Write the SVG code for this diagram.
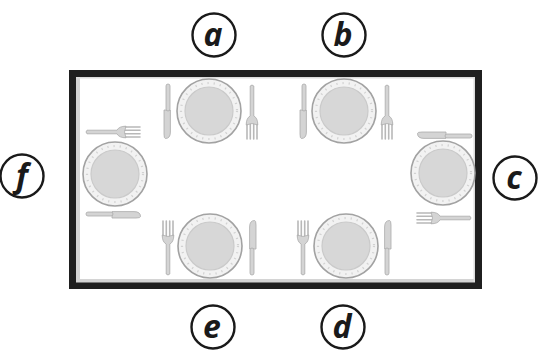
<svg xmlns="http://www.w3.org/2000/svg" xmlns:xlink="http://www.w3.org/1999/xlink" width="539" height="356" viewBox="0 0 539 356">
  <style>
    .label-ring { fill: #ffffff; stroke: #1a1a1a; stroke-width: 2.4; }
    .label-text { font-family: "Open Sans", "DejaVu Sans", sans-serif; font-style: italic; font-weight: 700; font-size: 32px; fill: #1a1a1a; text-anchor: middle; }
    .metal { fill: #d4d4d4; stroke: #ababab; stroke-width: 0.8; }
    .tine { stroke: #b8b8b8; stroke-width: 1.6; stroke-linecap: round; fill: none; }
  </style>
  <defs>
    <!-- dinner plate centred at the origin -->
    <g id="plate">
      <circle r="32" fill="#f2f2f2" stroke="#a2a2a2" stroke-width="1.6"/>
      <circle r="28" fill="none" stroke="#d2d2d2" stroke-width="2.2" stroke-dasharray="1.2 5"/>
      <circle r="24" fill="#d7d7d7" stroke="#cacaca" stroke-width="1.2"/>
    </g>
    <!-- table knife, blade pointing up -->
    <g id="knife">
      <path class="metal" d="M -2.4,1 L -2.4,-21 Q -2.4,-27.5 2.6,-27.5 Q 4,-27.5 4,-23 L 4,1 Z"/>
      <rect class="metal" x="-2" y="0" width="4" height="27" rx="2"/>
    </g>
    <!-- table fork, tines pointing up -->
    <g id="fork">
      <path class="tine" d="M -5,-27 L -5,-12 M -1.7,-27 L -1.7,-11 M 1.7,-27 L 1.7,-11 M 5,-27 L 5,-12"/>
      <path class="metal" d="M -5.8,-13 Q -5.8,-6 -1.8,-4 L -1.8,26 Q 0,28 1.8,26 L 1.8,-4 Q 5.8,-6 5.8,-13 Q 0,-10 -5.8,-13 Z"/>
    </g>
  </defs>

  <!-- table top -->
  <g id="table">
    <rect x="72.5" y="73.5" width="406" height="212" fill="#ffffff" stroke="#1f1f1f" stroke-width="7"/>
    <rect x="76" y="77" width="4" height="205" fill="#d4d4d4"/>
    <rect x="76" y="279" width="399" height="3.5" fill="#d4d4d4"/>
    <rect x="76" y="77" width="399" height="1.5" fill="#dcdcdc"/>
    <rect x="473.5" y="77" width="1.5" height="205" fill="#dcdcdc"/>
  </g>

  <!-- place settings -->
  <g id="setting-a">
    <use xlink:href="#plate" transform="translate(209,111)"/>
    <use xlink:href="#knife" transform="translate(168,111) rotate(180)"/>
    <use xlink:href="#fork" transform="translate(252,112) rotate(180)"/>
  </g>
  <g id="setting-b">
    <use xlink:href="#plate" transform="translate(344,111)"/>
    <use xlink:href="#knife" transform="translate(304,111) rotate(180)"/>
    <use xlink:href="#fork" transform="translate(387,112) rotate(180)"/>
  </g>
  <g id="setting-c">
    <use xlink:href="#plate" transform="translate(443,173)"/>
    <use xlink:href="#knife" transform="translate(445,136) rotate(-90)"/>
    <use xlink:href="#fork" transform="translate(444,218) rotate(-90)"/>
  </g>
  <g id="setting-d">
    <use xlink:href="#plate" transform="translate(346,246)"/>
    <use xlink:href="#fork" transform="translate(303,248)"/>
    <use xlink:href="#knife" transform="translate(387,248)"/>
  </g>
  <g id="setting-e">
    <use xlink:href="#plate" transform="translate(210,246)"/>
    <use xlink:href="#fork" transform="translate(168,248)"/>
    <use xlink:href="#knife" transform="translate(252,248)"/>
  </g>
  <g id="setting-f">
    <use xlink:href="#plate" transform="translate(115,174)"/>
    <use xlink:href="#fork" transform="translate(113,132) rotate(90)"/>
    <use xlink:href="#knife" transform="translate(113,214) rotate(90)"/>
  </g>

  <!-- seat labels -->
  <g id="label-a"><circle class="label-ring" cx="214" cy="35" r="21.5"/><text class="label-text" x="213" y="46">a</text></g>
  <g id="label-b"><circle class="label-ring" cx="344" cy="35" r="21.5"/><text class="label-text" x="343" y="46">b</text></g>
  <g id="label-c"><circle class="label-ring" cx="515" cy="178" r="21.5"/><text class="label-text" x="514" y="189">c</text></g>
  <g id="label-d"><circle class="label-ring" cx="343" cy="327" r="21.5"/><text class="label-text" x="342" y="338">d</text></g>
  <g id="label-e"><circle class="label-ring" cx="213" cy="327" r="21.5"/><text class="label-text" x="212" y="338">e</text></g>
  <g id="label-f"><circle class="label-ring" cx="22" cy="176" r="21.5"/><text class="label-text" x="22" y="187">f</text></g>
</svg>
